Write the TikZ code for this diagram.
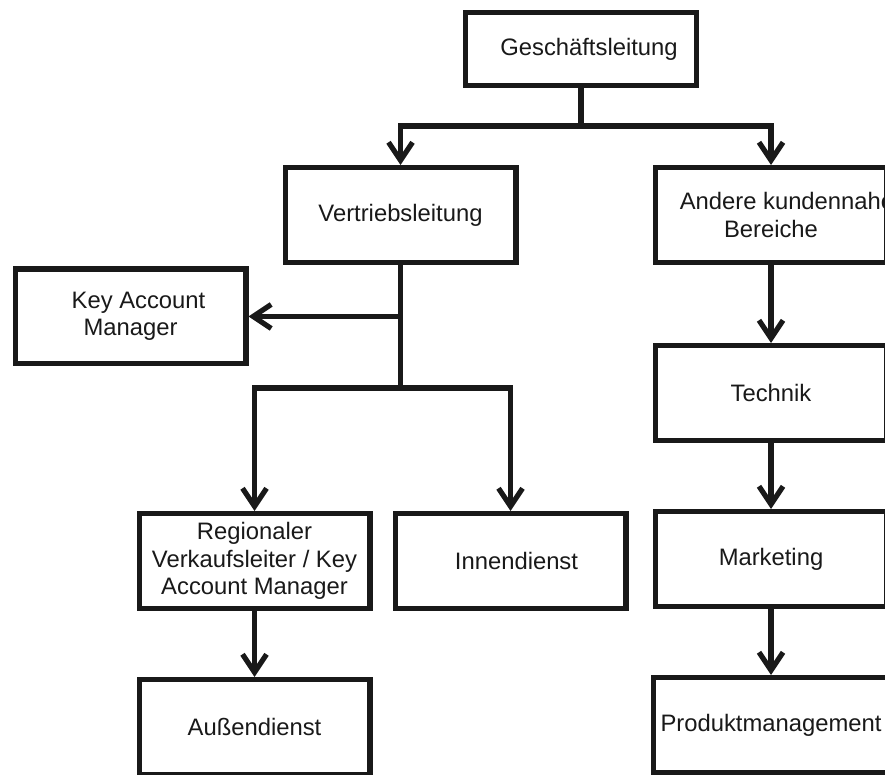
\documentclass[tikz,border=0pt]{standalone}
\usepackage{fontspec}
\setmainfont{Liberation Sans}
\usepackage{xcolor}
\usepackage{tikz}
\usetikzlibrary{arrows.meta,positioning}

\begin{document}
\begin{tikzpicture}[
x=0.5pt, y=-0.5pt,
node distance=33pt,
box/.style={draw=black!90, line width=2.6pt, minimum width=115.4pt, minimum height=47.4pt, align=center, font=\fontsize{11.9}{13.7}\selectfont, text=black!90},
conn/.style={draw=black!90, line width=2.6pt},
arr/.style={conn, -{Straight Barb[length=9pt,width=12pt]}}
]
\useasboundingbox (0,0) rectangle (885,775);
\fill[white] (0,0) rectangle (885,775);
\clip (0,0) rectangle (885,775);

\node[box, minimum height=36.4pt] (gl) at (581,49) {\hspace*{8pt}Geschäftsleitung};
\node[box] (vl) at (400.5,215) {Vertriebsleitung};
\node[box] (akb) at (771,215) {\hspace*{8pt}Andere kundennahe\hspace*{-8pt}\\Bereiche};
\node[box] (kam) at (130.5,316.5) {\hspace*{8pt}Key Account\\Manager};
\node[box] (rvl) at (254.5,561) {Regionaler\\Verkaufsleiter / Key\\Account Manager};
\node[box, right=10pt of rvl] (inn) {\hspace*{6pt}Innendienst};
\node[box, below=of rvl] (aud) {Außendienst};
\node[box, below=39pt of akb] (tech) {Technik};
\node[box, below=of tech] (mark) {Marketing};
\node[box, below=of mark] (prod) {Produktmanagement};

\draw[conn] (gl.south) -- ++(0,-19pt) coordinate (gsplit);
\draw[arr] (gsplit) -| (vl.north);
\draw[arr] (gsplit) -| (akb.north);
\draw[conn] (vl.south) -- ++(0,-61.5pt) coordinate (vsplit);
\draw[arr] (vl.south |- kam.east) -- (kam.east);
\draw[arr] (vsplit) -| (rvl.north);
\draw[arr] (vsplit) -| (inn.north);
\draw[arr] (rvl) -- (aud);
\draw[arr] (akb) -- (tech);
\draw[arr] (tech) -- (mark);
\draw[arr] (mark) -- (prod);
\end{tikzpicture}
\end{document}
